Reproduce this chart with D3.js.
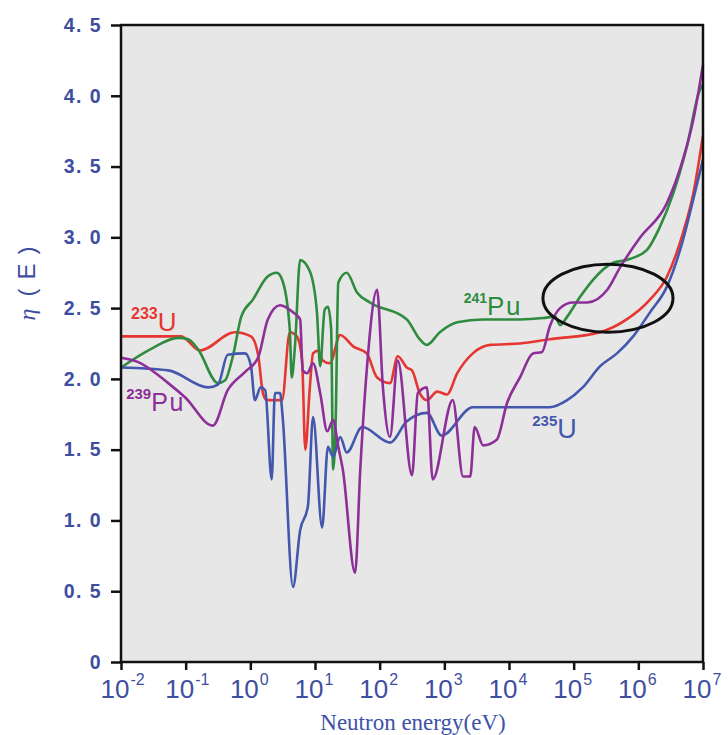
<!DOCTYPE html>
<html>
<head>
<meta charset="utf-8">
<script src="https://cdn.jsdelivr.net/npm/d3@7/dist/d3.min.js"></script>
<style>
  html, body { margin: 0; padding: 0; background: #ffffff; }
  svg { display: block; }
</style>
</head>
<body>
<svg id="chart" width="728" height="735"></svg>
<script>
// η(E): neutrons produced per neutron absorbed, versus incident neutron energy.
// Energies are stored as log10(E / eV).

const u233LogE = [-2.00,-1.07,-0.78,-0.24,0.01,0.12,0.20,0.26,0.49,0.61,0.72,0.80,0.85,0.92,0.97,1.05,1.12,1.23,1.39,1.59,1.80,1.96,2.16,2.28,2.42,2.50,2.62,2.73,2.89,3.04,3.20,3.44,3.71,4.17,4.63,5.41,5.82,6.18,6.44,6.69,6.85,7.00];
const u233Eta  = [2.30,2.30,2.20,2.33,2.30,2.17,1.89,1.85,1.85,2.33,2.30,2.13,1.50,1.94,2.18,2.20,2.13,2.11,2.31,2.23,2.18,2.01,1.97,2.16,2.08,2.06,1.90,1.85,1.91,1.89,2.04,2.18,2.24,2.25,2.28,2.33,2.42,2.56,2.72,3.03,3.31,3.72];

const u235LogE = [-2.00,-1.27,-0.65,-0.50,-0.35,-0.08,0.01,0.07,0.16,0.23,0.33,0.38,0.46,0.50,0.66,0.77,0.89,0.97,1.11,1.20,1.28,1.39,1.49,1.73,2.16,2.42,2.73,2.96,3.44,4.63,4.90,5.14,5.41,5.67,5.92,6.18,6.44,6.69,6.85,7.00];
const u235Eta  = [2.08,2.06,1.94,1.96,2.17,2.18,2.09,1.85,1.94,1.92,1.29,1.90,1.90,1.73,0.53,0.93,1.10,1.73,0.95,1.52,1.45,1.59,1.48,1.66,1.55,1.70,1.76,1.60,1.80,1.80,1.85,1.94,2.09,2.18,2.30,2.47,2.65,2.98,3.27,3.55];

const pu239LogE = [-2.00,-1.74,-1.27,-1.01,-0.58,-0.35,-0.08,0.12,0.27,0.46,0.66,0.77,0.81,0.88,0.97,1.08,1.19,1.28,1.36,1.43,1.62,1.70,1.80,1.96,2.05,2.16,2.28,2.50,2.59,2.73,2.82,3.13,3.29,3.40,3.47,3.60,3.81,3.97,4.17,4.37,4.51,4.63,4.79,4.99,5.21,5.52,5.72,6.03,6.44,6.69,6.85,7.00];
const pu239Eta  = [2.15,2.12,1.97,1.87,1.67,1.92,2.05,2.15,2.42,2.52,2.47,2.42,2.06,2.04,2.11,1.90,1.63,1.71,1.52,1.36,0.63,1.36,2.06,2.63,1.94,1.59,2.13,1.32,1.90,1.94,1.29,1.85,1.31,1.31,1.66,1.53,1.57,1.83,2.01,2.18,2.19,2.37,2.50,2.54,2.54,2.63,2.79,3.00,3.24,3.55,3.83,4.22];

const pu241LogE = [-2.00,-1.54,-1.12,-0.96,-0.81,-0.50,-0.39,-0.27,-0.14,0.04,0.26,0.41,0.50,0.61,0.64,0.69,0.77,0.92,1.03,1.08,1.15,1.20,1.25,1.28,1.32,1.36,1.49,1.65,1.85,2.42,2.62,2.73,2.93,3.20,3.60,4.17,4.53,4.71,4.79,4.90,5.10,5.30,5.61,5.82,6.13,6.33,6.54,6.75,6.95,7.00];
const pu241Eta  = [2.08,2.21,2.29,2.28,2.21,1.97,1.99,2.16,2.44,2.56,2.72,2.75,2.69,2.35,2.01,2.23,2.84,2.76,2.47,2.09,2.49,2.51,2.35,1.36,1.71,2.68,2.75,2.61,2.54,2.42,2.28,2.24,2.33,2.40,2.42,2.42,2.43,2.44,2.38,2.44,2.58,2.70,2.82,2.84,2.91,3.07,3.31,3.64,4.04,4.08];

const xTickExponents = [-2,-1,0,1,2,3,4,5,6,7];
const yTickValues = [0,0.5,1.0,1.5,2.0,2.5,3.0,3.5,4.0,4.5];

const series = [
  { name: "233", element: "U",  logE: u233LogE,  eta: u233Eta,  color: "#e63632",
    label: { logE: -1.845, eta: 2.34, supSize: 16, mainSize: 26 } },
  { name: "235", element: "U",  logE: u235LogE,  eta: u235Eta,  color: "#4357ad",
    label: { logE: 4.36, eta: 1.58, supSize: 15, mainSize: 27 } },
  { name: "239", element: "Pu", logE: pu239LogE, eta: pu239Eta, color: "#8c2f98",
    label: { logE: -1.92, eta: 1.77, supSize: 15, mainSize: 25 } },
  { name: "241", element: "Pu", logE: pu241LogE, eta: pu241Eta, color: "#2f8c3f",
    label: { logE: 3.30, eta: 2.45, supSize: 14, mainSize: 26 } }
];

// Highlighted region in the fast-neutron range
const highlight = { logE0: 4.525, logE1: 6.536, eta0: 2.33, eta1: 2.81 };

const svg = d3.select("#chart");
const margin = { left: 121, right: 25, top: 25, bottom: 73 };
const W = 728, H = 735;

const x = d3.scaleLog().domain([1e-2, 1e7]).range([margin.left, W - margin.right]);
const y = d3.scaleLinear().domain([0, 4.5]).range([H - margin.bottom, margin.top]);

const axisBlue = "#3e4e9f";

// plot background
svg.append("rect")
  .attr("x", x.range()[0]).attr("y", y.range()[1])
  .attr("width", x.range()[1] - x.range()[0])
  .attr("height", y.range()[0] - y.range()[1])
  .attr("fill", "#e7e7e7");

// curves
const line = d3.line()
  .x(d => x(Math.pow(10, d[0])))
  .y(d => y(d[1]))
  .curve(d3.curveMonotoneX);

const plot = svg.append("g");
const drawOrder = [0, 3, 1, 2];
drawOrder.forEach(i => {
  const s = series[i];
  const pts = s.logE.map((v, k) => [v, s.eta[k]]);
  plot.append("path")
    .datum(pts)
    .attr("d", line)
    .attr("fill", "none")
    .attr("stroke", s.color)
    .attr("stroke-width", 2.6)
    .attr("stroke-linejoin", "round");
});

// isotope labels
series.forEach(s => {
  const t = svg.append("text")
    .attr("x", x(Math.pow(10, s.label.logE)))
    .attr("y", y(s.label.eta))
    .attr("fill", s.color)
    .attr("font-family", "Liberation Sans, Arial, sans-serif");
  t.append("tspan")
    .attr("font-size", s.label.supSize)
    .attr("font-weight", "bold")
    .attr("dy", -12)
    .text(s.name);
  t.append("tspan")
    .attr("font-size", s.label.mainSize)
    .attr("dy", 12)
    .attr("letter-spacing", s.element === "Pu" ? 1.5 : 0)
    .text(s.element);
});

// highlight ellipse
const ex0 = x(Math.pow(10, highlight.logE0)), ex1 = x(Math.pow(10, highlight.logE1));
const ey0 = y(highlight.eta1), ey1 = y(highlight.eta0);
svg.append("ellipse")
  .attr("cx", (ex0 + ex1) / 2).attr("cy", (ey0 + ey1) / 2)
  .attr("rx", (ex1 - ex0) / 2).attr("ry", (ey1 - ey0) / 2)
  .attr("fill", "none").attr("stroke", "#111").attr("stroke-width", 3);

// frame
svg.append("rect")
  .attr("x", x.range()[0]).attr("y", y.range()[1])
  .attr("width", x.range()[1] - x.range()[0])
  .attr("height", y.range()[0] - y.range()[1])
  .attr("fill", "none").attr("stroke", "#111").attr("stroke-width", 2.5);

// y axis
const yAxis = svg.append("g")
  .attr("transform", `translate(${x.range()[0]},0)`)
  .call(d3.axisLeft(y).tickValues(yTickValues).tickSize(10).tickPadding(9)
    .tickFormat(d => d === 0 ? "0" : d.toFixed(1).replace(".", ". ")));
yAxis.select(".domain").remove();
yAxis.selectAll(".tick line").attr("stroke", "#111").attr("stroke-width", 2.5);
yAxis.selectAll(".tick text")
  .attr("fill", axisBlue)
  .attr("font-family", "Liberation Sans, Arial, sans-serif")
  .attr("font-weight", "bold")
  .attr("font-size", 19.5)
  .attr("letter-spacing", 1.4)
  .style("white-space", "pre");

// x axis
const xAxis = svg.append("g")
  .attr("transform", `translate(0,${y.range()[0]})`)
  .call(d3.axisBottom(x).tickValues(xTickExponents.map(e => Math.pow(10, e))).tickSize(8).tickFormat(""));
xAxis.select(".domain").remove();
xAxis.selectAll(".tick line").attr("stroke", "#111").attr("stroke-width", 2.5);
xAxis.selectAll(".tick").each(function(d, i) {
  const g = d3.select(this);
  g.append("text")
    .attr("x", 8).attr("y", 36)
    .attr("text-anchor", "end")
    .attr("fill", axisBlue)
    .attr("font-family", "Liberation Sans Narrow, Arial Narrow, sans-serif")
    .attr("font-size", 26)
    .text("10");
  g.append("text")
    .attr("x", 9).attr("y", 23)
    .attr("text-anchor", "start")
    .attr("fill", axisBlue)
    .attr("font-family", "Liberation Sans Narrow, Arial Narrow, sans-serif")
    .attr("font-size", 16)
    .text(String(xTickExponents[i]));
});

// axis titles
svg.append("text")
  .attr("x", (x.range()[0] + x.range()[1]) / 2 + 1)
  .attr("y", 730)
  .attr("text-anchor", "middle")
  .attr("fill", "#3c52a8")
  .attr("font-family", "Liberation Serif, Times New Roman, serif")
  .attr("font-size", 23)
  .text("Neutron energy(eV)");

const yTitle = svg.append("text")
  .attr("transform", "translate(35,279) rotate(-90)")
  .attr("text-anchor", "middle")
  .attr("fill", axisBlue)
  .attr("font-size", 24);
yTitle.append("tspan")
  .attr("font-family", "Liberation Serif, serif")
  .attr("font-style", "italic")
  .text("η");
yTitle.append("tspan")
  .attr("font-family", "Liberation Sans, Arial, sans-serif")
  .attr("dx", 12)
  .attr("letter-spacing", 9)
  .text("(E)");
</script>
</body>
</html>
